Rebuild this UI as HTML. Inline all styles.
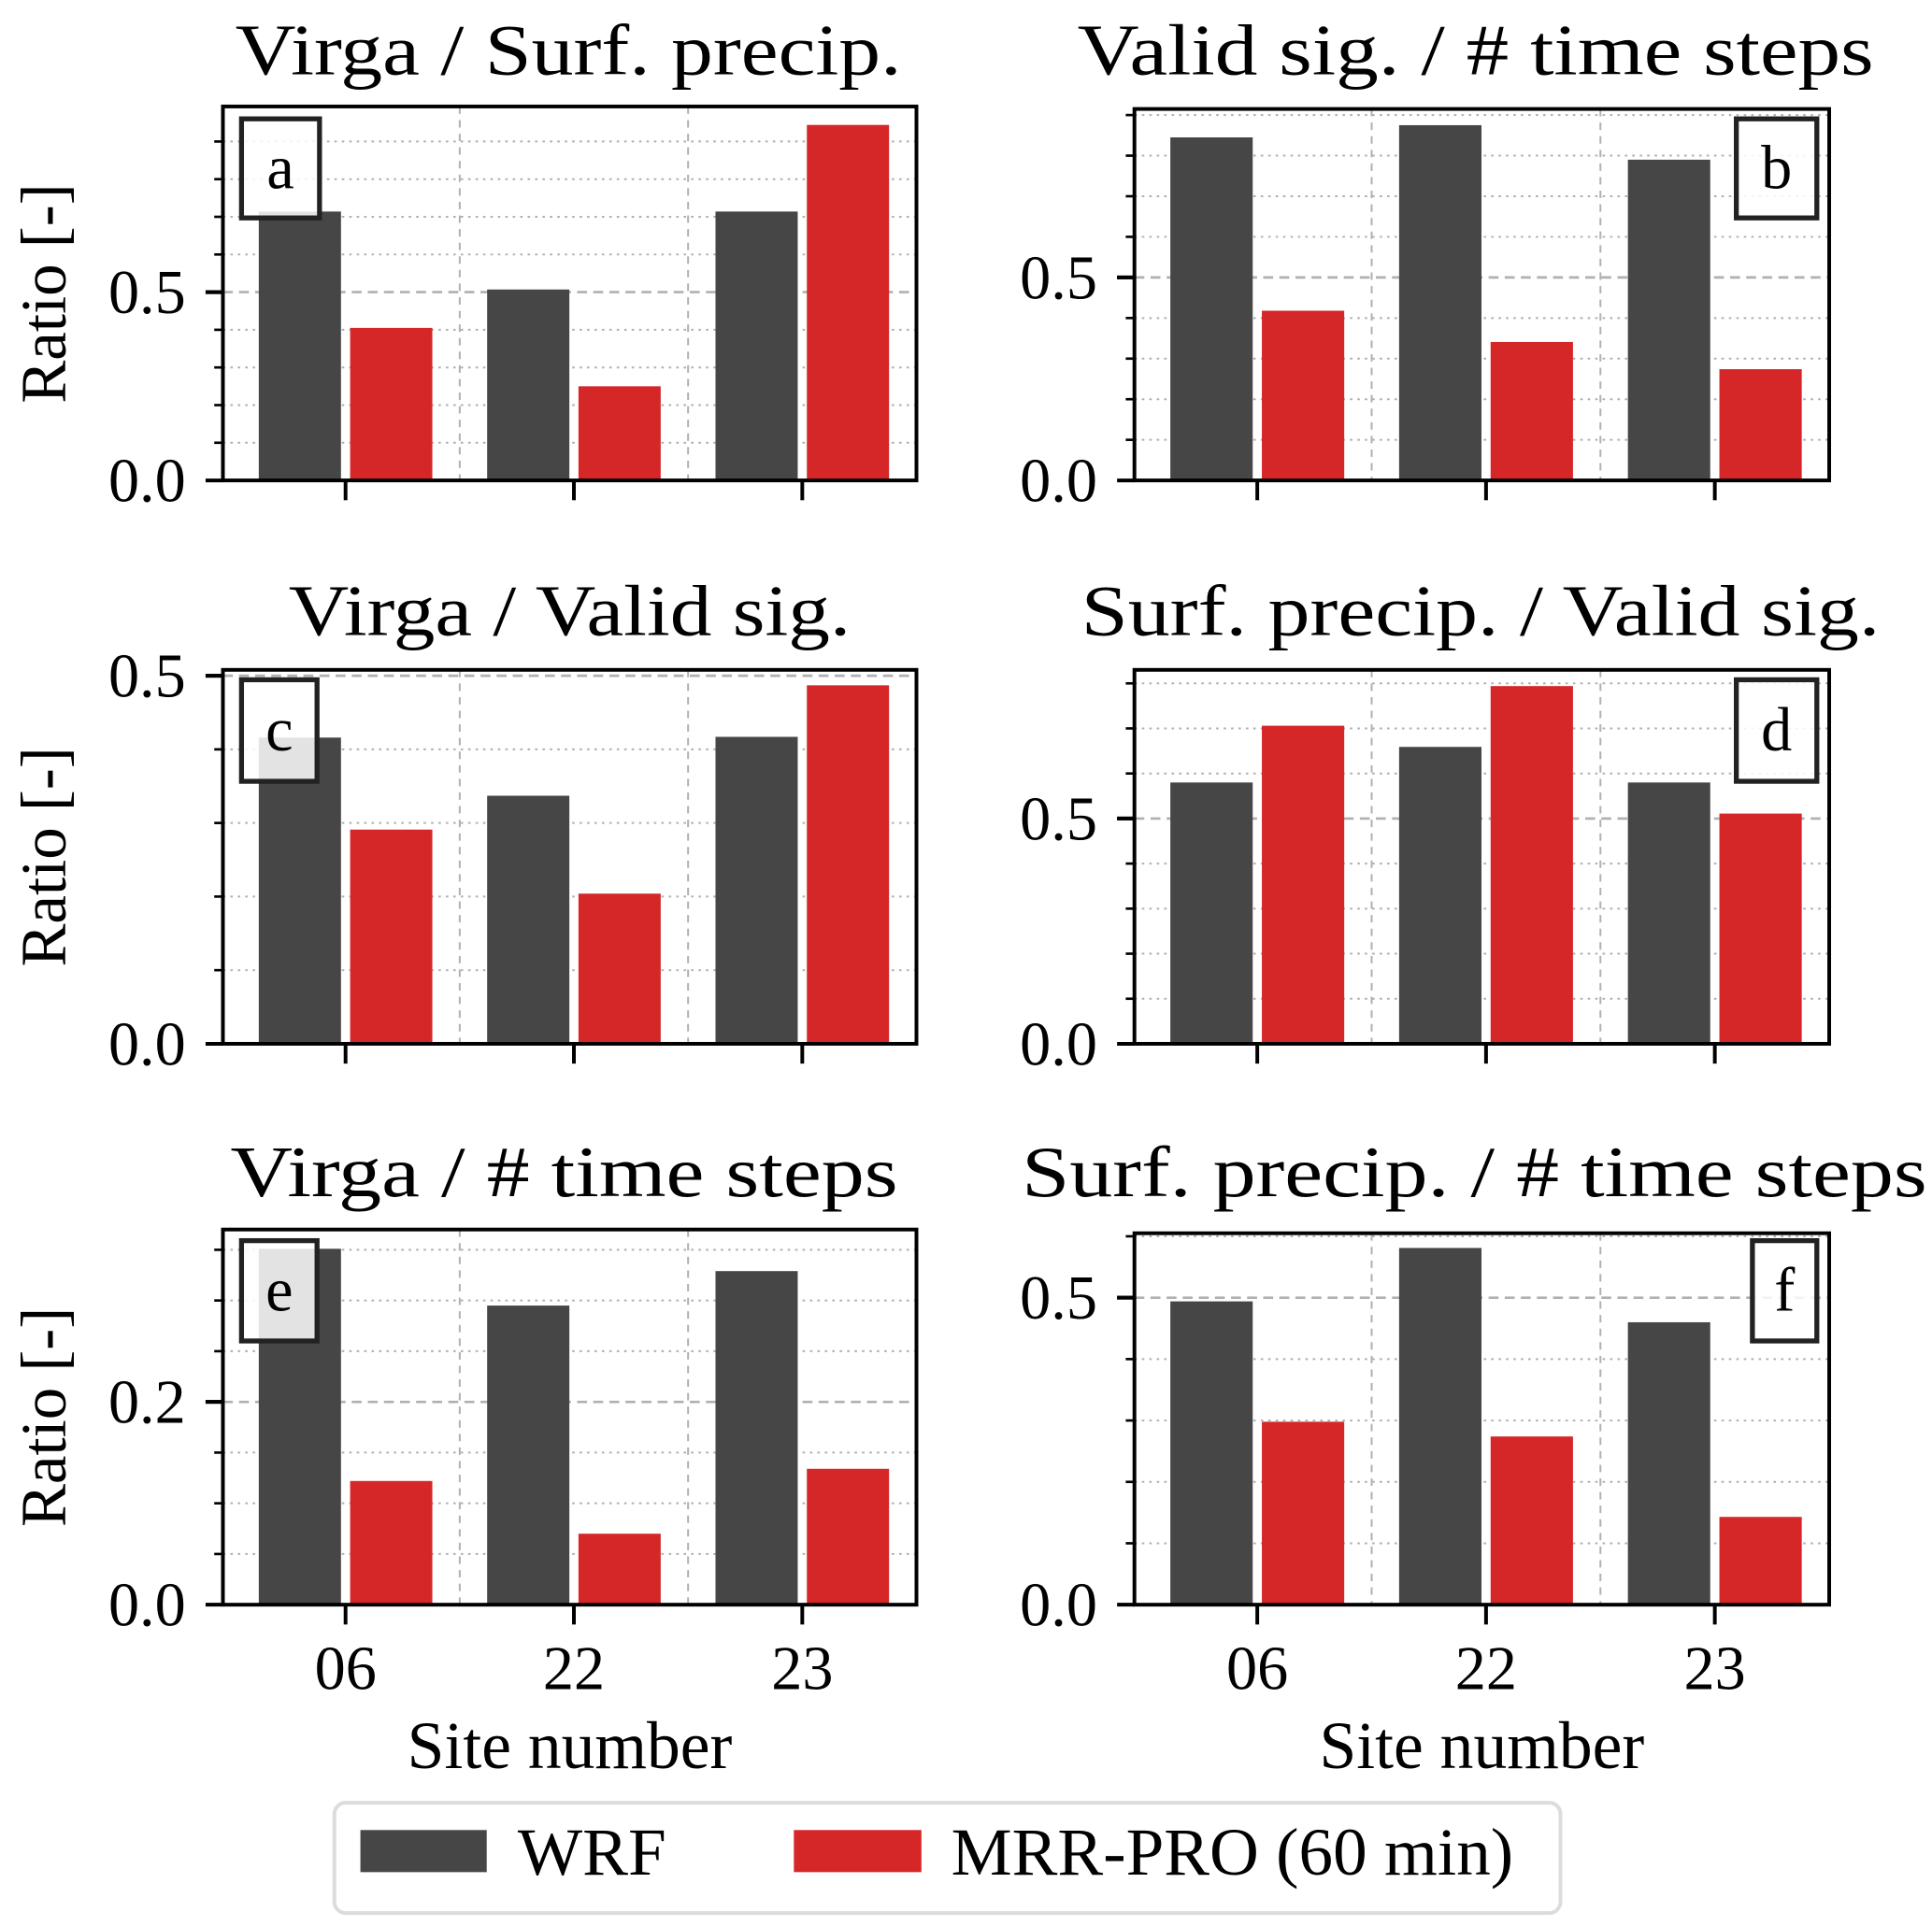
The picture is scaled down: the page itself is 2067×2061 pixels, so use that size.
<!DOCTYPE html>
<html><head><meta charset="utf-8">
<style>
html,body{margin:0;padding:0;background:#fff;}
svg{display:block;}
text{font-family:"Liberation Serif","DejaVu Serif",serif;fill:#000;}
</style></head>
<body>
<svg id="fig" width="2067" height="2061" viewBox="0 0 1560 1555.5" preserveAspectRatio="none" xmlns="http://www.w3.org/2000/svg">
<g id="panels"></g>
<g>
  <rect x="270" y="1456" width="990" height="89" rx="9" fill="#fff" stroke="#dcdcdc" stroke-width="3"/>
  <rect x="291" y="1478" width="102" height="34" fill="#464646"/>
  <text x="418" y="1514" font-size="54" textLength="120" lengthAdjust="spacingAndGlyphs">WRF</text>
  <rect x="641" y="1478" width="103" height="34" fill="#d62728"/>
  <text x="768" y="1514" font-size="54" textLength="454" lengthAdjust="spacingAndGlyphs">MRR-PRO (60 min)</text>
</g>
</svg>
<script>
const categories = ["06","22","23"];
const titles = ["Virga / Surf.  precip.","Valid sig.  / # time steps","Virga / Valid sig.","Surf.  precip.  / Valid sig.","Virga / # time steps","Surf.  precip.  / # time steps"];
const panelLetters = ["a","b","c","d","e","f"];
const wrfA = [0.714,0.507,0.714];
const mrrA = [0.405,0.250,0.944];
const wrfB = [0.845,0.875,0.790];
const mrrB = [0.418,0.341,0.274];
const wrfC = [0.416,0.337,0.417];
const mrrC = [0.291,0.204,0.487];
const wrfD = [0.580,0.659,0.580];
const mrrD = [0.706,0.794,0.511];
const wrfE = [0.351,0.295,0.329];
const mrrE = [0.122,0.070,0.134];
const wrfF = [0.494,0.581,0.460];
const mrrF = [0.298,0.274,0.143];
const yMaxes = [0.993,0.915,0.508,0.83,0.37,0.605];
const majorTicks = [[0,0.5],[0,0.5],[0,0.5],[0,0.5],[0,0.2],[0,0.5]];
const majorLabels = [["0.0","0.5"],["0.0","0.5"],["0.0","0.5"],["0.0","0.5"],["0.0","0.2"],["0.0","0.5"]];
const minorSteps = [0.1,0.1,0.1,0.1,0.05,0.1];

const wrfAll=[wrfA,wrfB,wrfC,wrfD,wrfE,wrfF];
const mrrAll=[mrrA,mrrB,mrrC,mrrD,mrrE,mrrF];
const NS="http://www.w3.org/2000/svg";
const root=document.getElementById('panels');
function mk(tag,attrs,parent){const e=document.createElementNS(NS,tag);for(const k in attrs)e.setAttribute(k,attrs[k]);parent.appendChild(e);return e;}
const layouts=[
 {x0:180,x1:740,y0:86,y1:388,ta:190,tb:728,ty:60},
 {x0:916,x1:1477,y0:88,y1:388,ta:870,tb:1513,ty:60},
 {x0:180,x1:740,y0:541,y1:843,ta:233,tb:687,ty:513},
 {x0:916,x1:1477,y0:541,y1:843,ta:873,tb:1518,ty:513},
 {x0:180,x1:740,y0:993,y1:1296,ta:186,tb:725,ty:966},
 {x0:916,x1:1477,y0:996,y1:1296,ta:825,tb:1556,ty:966}];
const boxes=[[195,96,63,80],[1402,96,65,80],[195,549,61,82],[1402,549,65,82],[195,1002,61,81],[1415,1002,52,81]];
for(let p=0;p<6;p++){
 const L=layouts[p];
 const g=mk('g',{},root);
 
 
 const xmin=-0.537,xmax=2.5;
 const X=v=>L.x0+(v-xmin)/(xmax-xmin)*(L.x1-L.x0);
 const Y=v=>L.y1-v/yMaxes[p]*(L.y1-L.y0);
 const step=minorSteps[p];
 for(let k=1;k*step<yMaxes[p]-1e-6;k++){
  const v=k*step;const isMajor=majorTicks[p].some(m=>Math.abs(m-v)<1e-6);
  const y=Y(v);
  const ln=mk('line',{x1:L.x0,x2:L.x1,y1:y,y2:y,stroke:'#b0b0b0','stroke-width':isMajor?2:1.5,'stroke-dasharray':isMajor?'8,5':'2,4'},g);
  
  
  const t=mk('line',{x1:L.x0-(isMajor?14:7),x2:L.x0,y1:y,y2:y,stroke:'#000','stroke-width':isMajor?3:2},g);
  
  
 }
 for(const v of [0.5,1.5]){
  const vl=mk('line',{x1:X(v),x2:X(v),y1:L.y0,y2:L.y1,stroke:'#b0b0b0','stroke-width':1.5,'stroke-dasharray':'6,5'},g);
  
  
 }
 const bw=0.36;
 categories.forEach((c,i)=>{
  const w=wrfAll[p][i],m=mrrAll[p][i];
  const b1=mk('rect',{x:X(i-0.2-bw/2),y:Y(w),width:X(bw)-X(0),height:Y(0)-Y(w),fill:'#464646'},g);
  
  
  const b2=mk('rect',{x:X(i+0.2-bw/2),y:Y(m),width:X(bw)-X(0),height:Y(0)-Y(m),fill:'#d62728'},g);
  
  
  const tk=mk('line',{x1:X(i),x2:X(i),y1:L.y1,y2:L.y1+16,stroke:'#000','stroke-width':3},g);
  
  
  if(p>=4){
   const tl=mk('text',{x:X(i),y:1364,'font-size':50,'text-anchor':'middle'},g);tl.textContent=c;
   
   
  }
 });
 majorTicks[p].forEach((v,j)=>{
  const y=Y(v);
  const t=mk('line',{x1:L.x0-14,x2:L.x0,y1:y,y2:y,stroke:'#000','stroke-width':3},g);
  
  
  const tl=mk('text',{x:L.x0-30,y:y+17,'font-size':50,'text-anchor':'end'},g);tl.textContent=majorLabels[p][j];
  
  
 });
 const sp=mk('rect',{x:L.x0,y:L.y0,width:L.x1-L.x0,height:L.y1-L.y0,fill:'none',stroke:'#000','stroke-width':3},g);
 
 
 const ti=mk('text',{x:L.ta,y:L.ty,'font-size':58,textLength:L.tb-L.ta,lengthAdjust:'spacingAndGlyphs','xml:space':'preserve'},g);ti.textContent=titles[p];
 
 
 const B=boxes[p];
 const bx=mk('rect',{x:B[0],y:B[1],width:B[2],height:B[3],fill:'rgba(255,255,255,0.85)',stroke:'#222','stroke-width':4},g);
 
 
 const lt=mk('text',{x:B[0]+B[2]/2,y:B[1]+B[3]/2+16,'font-size':50,'text-anchor':'middle'},g);lt.textContent=panelLetters[p];
 
 
 if(p%2===0){
  const cy=(L.y0+L.y1)/2;
  const yl=mk('text',{x:0,y:0,'font-size':52,'text-anchor':'middle',transform:`translate(53,${cy}) rotate(-90)`},g);yl.textContent='Ratio [-]';
  
  
 }
 if(p>=4){
  const xl=mk('text',{x:(L.x0+L.x1)/2,y:1428,'font-size':54,'text-anchor':'middle'},g);xl.textContent='Site number';
  
  
 }
}
</script>
</body></html>
